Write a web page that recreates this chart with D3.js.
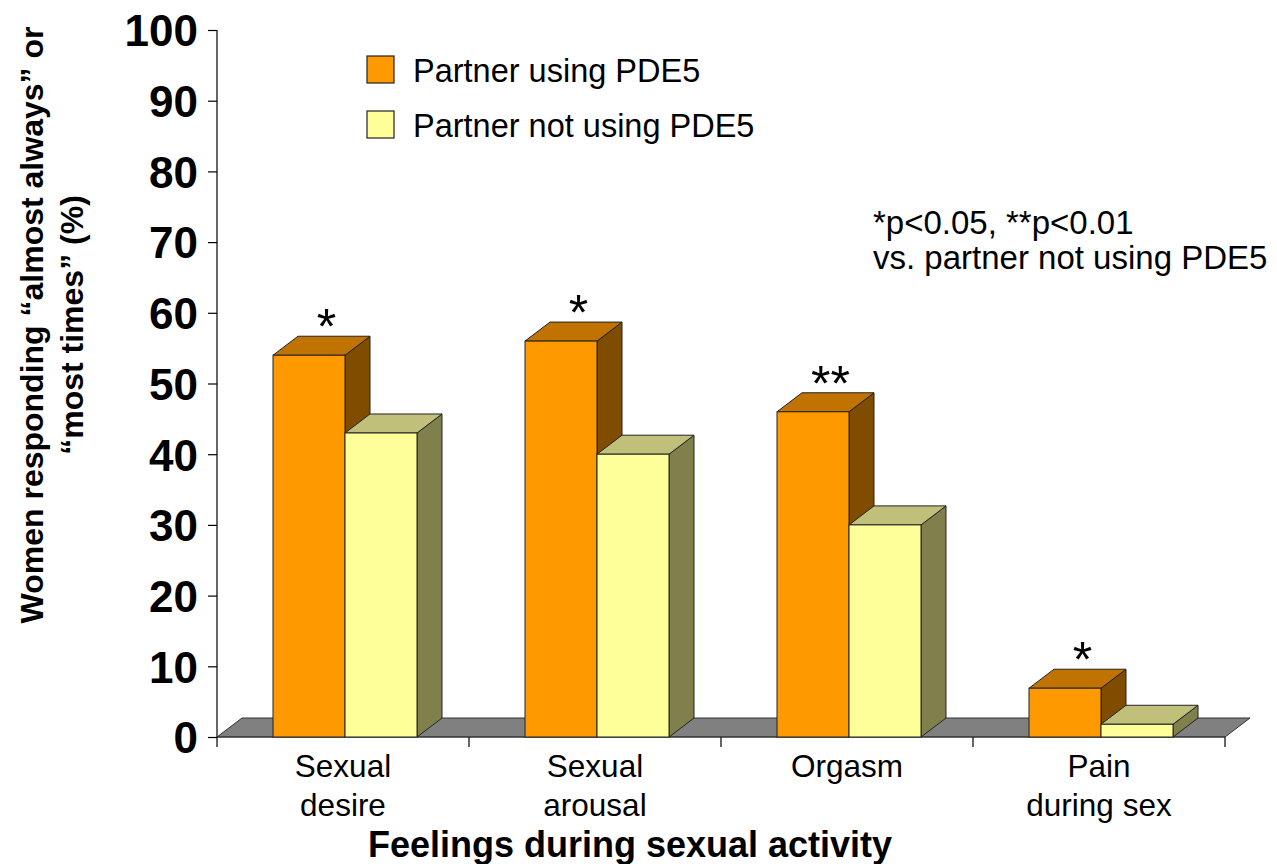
<!DOCTYPE html>
<html>
<head>
<meta charset="utf-8">
<script src="https://cdn.jsdelivr.net/npm/d3@7"></script>
<style>
  html, body { margin: 0; padding: 0; background: #fff; }
  svg { display: block; font-family: "Liberation Sans", Arial, sans-serif; }
</style>
</head>
<body>
<svg id="chart" width="1277" height="864"></svg>
<script>
// ---- data ----
const categories = ["Sexual desire", "Sexual arousal", "Orgasm", "Pain during sex"];
const categoryLines = [["Sexual", "desire"], ["Sexual", "arousal"], ["Orgasm"], ["Pain", "during sex"]];
const seriesNames = ["Partner using PDE5", "Partner not using PDE5"];
const usingPDE5 = [54, 56, 46, 6.9];
const notUsingPDE5 = [43, 40, 30, 1.8];
const significance = ["*", "*", "**", "*"];
const yTicks = [0, 10, 20, 30, 40, 50, 60, 70, 80, 90, 100];
const yTitleLines = ["Women responding \u201calmost always\u201d or", "\u201cmost times\u201d (%)"];
const xTitle = "Feelings during sexual activity";
const noteLines = ["*p<0.05, **p<0.01", "vs. partner not using PDE5"];

// ---- styles ----
const faces = [
  { front: "#FF9900", top: "#C07300", side: "#7F4C00" },
  { front: "#FFFF99", top: "#C0C07A", side: "#80804D" }
];
const depthX = 25, depthY = -19;

const svg = d3.select("#chart");

const y = d3.scaleLinear().domain([0, 100]).range([737, 30]);
const x = d3.scaleBand().domain(categories).range([217, 1225]).paddingInner(0).paddingOuter(0);
const xs = d3.scaleBand().domain(seriesNames).range([56, 200]);

// floor
const floorPts = [[217, y(0)], [1225, y(0)], [1225 + depthX, y(0) + depthY], [217 + depthX, y(0) + depthY]];
svg.append("polygon")
  .attr("points", floorPts.map(p => p.join(",")).join(" "))
  .attr("fill", "#808080").attr("stroke", "#333").attr("stroke-width", 1);

// y axis
const yAxis = d3.axisLeft(y).tickValues(yTicks).tickSize(9).tickPadding(10).tickFormat(d3.format("d"));
const gy = svg.append("g").attr("transform", "translate(217,0)").call(yAxis);
gy.select(".domain").attr("d", `M0,${y(100)}V${y(0) + 10}`).attr("stroke", "#000").attr("stroke-width", 1.2);
gy.selectAll(".tick line").attr("stroke", "#000").attr("stroke-width", 1.2);
gy.selectAll(".tick text")
  .attr("font-family", "'Liberation Sans', Arial, sans-serif")
  .attr("font-size", 44).attr("font-weight", "bold").attr("fill", "#000")
  .attr("dy", "0.36em");

// x axis ticks at category boundaries
const bounds = categories.map(c => x(c) + x.bandwidth());
svg.append("g").selectAll("line").data(bounds).join("line")
  .attr("x1", d => d).attr("x2", d => d)
  .attr("y1", y(0)).attr("y2", y(0) + 10)
  .attr("stroke", "#000").attr("stroke-width", 1.2);
svg.append("line").attr("x1", 217).attr("x2", 1225).attr("y1", y(0)).attr("y2", y(0))
  .attr("stroke", "#333").attr("stroke-width", 1);

// bars
const seriesValues = [usingPDE5, notUsingPDE5];
const groups = svg.append("g").selectAll("g.cat").data(categories).join("g").attr("class", "cat");
groups.each(function (cat, i) {
  const g = d3.select(this);
  seriesNames.forEach((s, k) => {
    const v = seriesValues[k][i];
    const x0 = x(cat) + xs(s), w = xs.bandwidth();
    const y0 = y(0), yt = y(v);
    const f = faces[k];
    const bar = g.append("g");
    bar.append("polygon")
      .attr("points", [[x0 + w, yt], [x0 + w + depthX, yt + depthY], [x0 + w + depthX, y0 + depthY], [x0 + w, y0]].map(p => p.join(",")).join(" "))
      .attr("fill", f.side).attr("stroke", "#222").attr("stroke-width", 1).attr("stroke-linejoin", "round");
    bar.append("polygon")
      .attr("points", [[x0, yt], [x0 + w, yt], [x0 + w + depthX, yt + depthY], [x0 + depthX, yt + depthY]].map(p => p.join(",")).join(" "))
      .attr("fill", f.top).attr("stroke", "#222").attr("stroke-width", 1).attr("stroke-linejoin", "round");
    bar.append("rect")
      .attr("x", x0).attr("y", yt).attr("width", w).attr("height", y0 - yt)
      .attr("fill", f.front).attr("stroke", "#222").attr("stroke-width", 1);
  });
  // significance marker
  const xo = x(cat) + xs(seriesNames[0]);
  g.append("text")
    .attr("x", xo + (xs.bandwidth() + depthX) / 2 + 5)
    .attr("y", y(usingPDE5[i]) + depthY + 8)
    .attr("text-anchor", "middle").attr("font-size", 50).attr("fill", "#000")
    .text(significance[i]);
});

// category labels
const catLabels = svg.append("g").selectAll("text").data(categories).join("text")
  .attr("text-anchor", "middle").attr("font-size", 31.5).attr("fill", "#000");
catLabels.each(function (c, i) {
  const t = d3.select(this);
  categoryLines[i].forEach((line, j) => {
    t.append("tspan").attr("x", x(c) + x.bandwidth() / 2).attr("y", 777 + j * 39).text(line);
  });
});

// x title
svg.append("text").attr("x", 630).attr("y", 857).attr("text-anchor", "middle")
  .attr("font-size", 36).attr("font-weight", "bold").attr("fill", "#000")
  .text(xTitle);

// y title
const yt = svg.append("text").attr("transform", "translate(0,325) rotate(-90)")
  .attr("text-anchor", "middle").attr("font-size", 32).attr("font-weight", "bold").attr("fill", "#000");
yTitleLines.forEach((line, j) => {
  yt.append("tspan").attr("x", 0).attr("y", 43 + j * 40).text(line);
});

// legend
const legend = svg.append("g");
seriesNames.forEach((s, k) => {
  legend.append("rect").attr("x", 367).attr("y", 56 + k * 55).attr("width", 27).attr("height", 27)
    .attr("fill", faces[k].front).attr("stroke", "#222").attr("stroke-width", 1.2);
  legend.append("text").attr("x", 413).attr("y", 82 + k * 54.5)
    .attr("font-size", 32.5).attr("fill", "#000").text(s);
});

// significance note
noteLines.forEach((line, j) => {
  svg.append("text").attr("x", 873).attr("y", 234 + j * 35)
    .attr("font-size", 33).attr("fill", "#000").text(line);
});
</script>
</body>
</html>
